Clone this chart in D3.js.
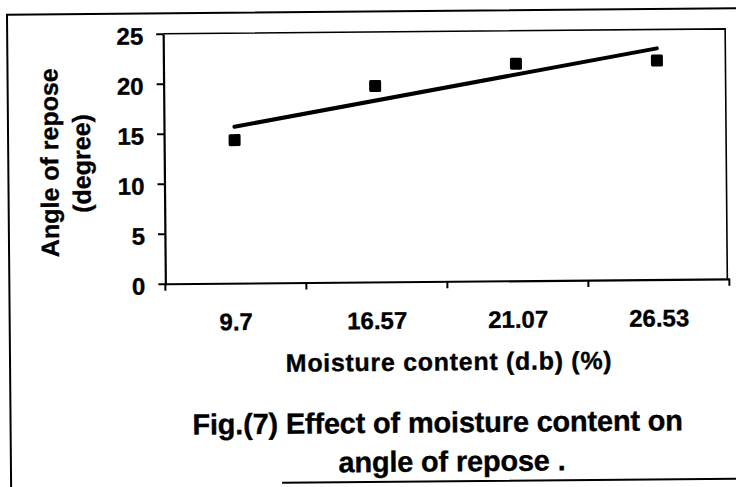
<!DOCTYPE html>
<html>
<head>
<meta charset="utf-8">
<script src="https://cdn.jsdelivr.net/npm/d3@7"></script>
<style>
  html, body { margin: 0; padding: 0; background: #fff; }
  svg { display: block; }
  text { font-family: "Liberation Sans", Arial, sans-serif; font-weight: bold; fill: #000; stroke: #000; stroke-width: 0.35px; }
</style>
</head>
<body>
<svg id="chart" width="736" height="487"></svg>
<script>
// ---- data ----
const categories = ["9.7", "16.57", "21.07", "26.53"];
const angleValues = [14.3, 19.6, 21.7, 21.9];
const yTicks = [0, 5, 10, 15, 20, 25];
const xTitle = "Moisture content (d.b) (%)";
const yTitleLines = ["Angle of repose", "(degree)"];
const figTitleLines = ["Fig.(7) Effect of moisture content on", "angle of repose ."];

// ---- layout ----
const plot = { left: 165, right: 729, top: 32, bottom: 282 };

const svg = d3.select("#chart");
const root = svg.append("g").attr("transform", "rotate(-0.5, 368, 243)");

// outer frame (scanned figure border)
root.append("path")
  .attr("d", `M760,11.5 L9,11.5 L9,500 M280,482 L760,482`)
  .attr("fill", "none").attr("stroke", "#000").attr("stroke-width", 2);

const x = d3.scaleBand().domain(categories).range([plot.left, plot.right]).padding(0);
const y = d3.scaleLinear().domain([0, 25]).range([plot.bottom, plot.top]);

// plot area frame (top and right)
root.append("path")
  .attr("d", `M${plot.left},${plot.top} L${x.range()[1] - 2},${plot.top} L${x.range()[1] - 2},${plot.bottom}`)
  .attr("fill", "none").attr("stroke", "#000").attr("stroke-width", 1.6);

// y axis
const yAxis = root.append("g")
  .attr("transform", `translate(${plot.left},0)`)
  .call(d3.axisLeft(y).tickValues(yTicks).tickSize(7).tickPadding(13).tickSizeOuter(0));
yAxis.select(".domain").attr("stroke-width", 2.2);
yAxis.selectAll(".tick line").attr("stroke-width", 2);
yAxis.selectAll(".tick text").attr("font-size", 24).attr("dy", "0.42em")
  .style("font-family", '"Liberation Sans", Arial, sans-serif').style("font-weight", "bold");

// x axis (labels centered in bands, ticks on band boundaries)
const xAxis = root.append("g")
  .attr("transform", `translate(0,${plot.bottom})`)
  .call(d3.axisBottom(x).tickSize(0).tickSizeOuter(0));
xAxis.select(".domain").attr("stroke-width", 2.2);
xAxis.selectAll(".tick text").attr("font-size", 24).attr("y", 47).attr("dy", 0)
  .style("font-family", '"Liberation Sans", Arial, sans-serif').style("font-weight", "bold");
const boundaries = categories.map(c => x(c)).concat([x.range()[1]]);
xAxis.selectAll(".btick").data(boundaries).enter().append("line")
  .attr("class", "btick")
  .attr("x1", d => d).attr("x2", d => d)
  .attr("y1", 0).attr("y2", 7)
  .attr("stroke", "#000").attr("stroke-width", 2);

// linear trendline (least squares fit of the series over category index)
const idx = angleValues.map((v, i) => i + 1);
const mx = d3.mean(idx), my = d3.mean(angleValues);
const slope = d3.sum(idx.map((t, i) => (t - mx) * (angleValues[i] - my))) / d3.sum(idx.map(t => (t - mx) ** 2));
const intercept = my - slope * mx;
const trend = [
  { c: categories[0], v: intercept + slope * 1 },
  { c: categories[categories.length - 1], v: intercept + slope * categories.length }
];
root.append("path")
  .datum(trend)
  .attr("d", d3.line().x(d => x(d.c) + x.bandwidth() / 2).y(d => y(d.v)))
  .attr("fill", "none").attr("stroke", "#000").attr("stroke-width", 4).attr("stroke-linecap", "round");

// markers
const ms = 12;
root.selectAll(".pt").data(categories).enter().append("rect")
  .attr("class", "pt")
  .attr("x", c => x(c) + x.bandwidth() / 2 - ms / 2)
  .attr("y", (c, i) => y(angleValues[i]) - ms / 2)
  .attr("width", ms).attr("height", ms)
  .attr("rx", 1.5)
  .attr("fill", "#000");

// axis titles
root.append("text")
  .attr("x", (plot.left + plot.right) / 2 + 1).attr("y", 371)
  .attr("text-anchor", "middle").attr("font-size", 25).attr("letter-spacing", 0.7)
  .text(xTitle);

[59, 91].forEach((bx, i) => {
  root.append("text")
    .attr("transform", `translate(${bx},${160 + i}) rotate(-90)`)
    .attr("text-anchor", "middle").attr("font-size", 25)
    .text(yTitleLines[i]);
});

// figure caption
root.append("text").attr("x", 436).attr("y", 433)
  .attr("text-anchor", "middle").attr("font-size", 29).attr("letter-spacing", -0.2)
  .text(figTitleLines[0]);
root.append("text").attr("x", 450).attr("y", 472)
  .attr("text-anchor", "middle").attr("font-size", 29).attr("letter-spacing", -0.2)
  .text(figTitleLines[1]);
</script>
</body>
</html>
